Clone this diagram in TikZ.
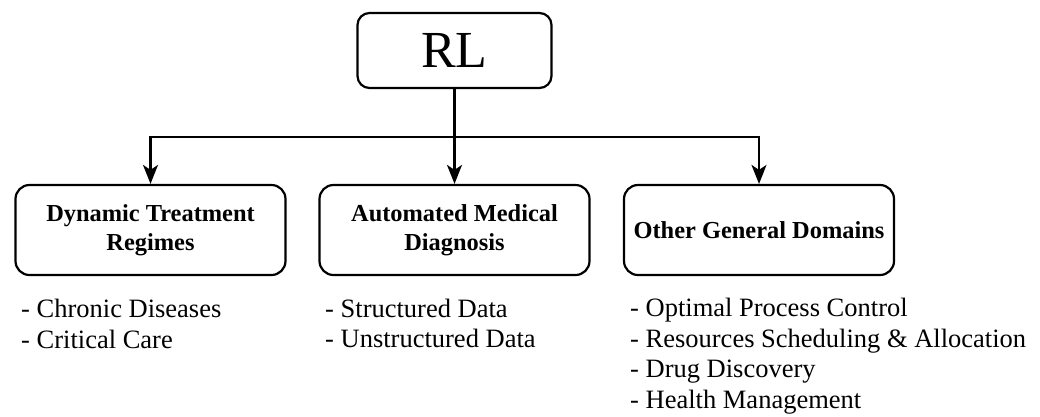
\documentclass[tikz,border=0pt]{standalone}
\usepackage{fontspec}
\setmainfont{Liberation Serif}
\usetikzlibrary{arrows.meta}
\begin{document}
\begin{tikzpicture}[x=1pt,y=-1pt,
  box/.style={draw, line width=2.2pt, rounded corners=14pt, minimum width=270pt, minimum height=90pt, inner sep=0pt, align=center, font=\fontsize{24.4}{29}\selectfont\bfseries},
  rlbox/.style={draw, line width=2.2pt, rounded corners=12pt, minimum width=194pt, minimum height=75pt, inner sep=0pt, font=\fontsize{52}{56}\selectfont},
  lst/.style={anchor=base west, inner sep=0pt, align=left, font=\fontsize{26.5}{30.5}\selectfont},
  conn/.style={line width=2.2pt},
  arr/.style={conn, -{Stealth[length=19pt,width=15pt,inset=5pt]}}]
\useasboundingbox (0,0) rectangle (1040,416);
\node[rlbox] (rl) at (454.5,50.5) {RL};
\node[box] (b1) at (150.5,230) {Dynamic Treatment\\Regimes};
\node[box] (b2) at (454.5,230) {Automated Medical\\Diagnosis};
\node[box] (b3) at (759,230) {Other General Domains};
\coordinate (j) at (454.5,137);
\draw[conn] (rl.south) -- (j);
\draw[arr] (j) -- (b2.north);
\draw[arr] (j) -| (b1.north);
\draw[arr] (j) -| (b3.north);
\node[lst] (l1) at (21,348) {- Chronic Diseases\\- Critical Care};
\node[lst] (l2) at (325,347.5) {- Structured Data\\- Unstructured Data};
\node[lst] (l3) at (630,408) {- Optimal Process Control\\- Resources Scheduling \& Allocation\\- Drug Discovery\\- Health Management};
\end{tikzpicture}
\end{document}
